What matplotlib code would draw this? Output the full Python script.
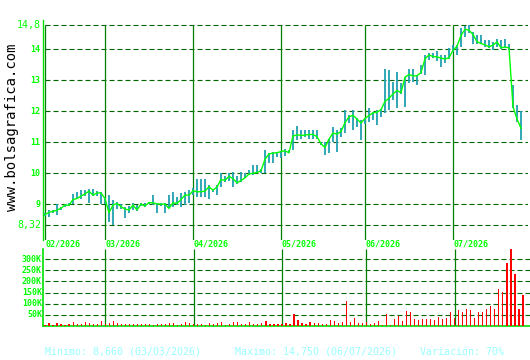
import matplotlib
matplotlib.use("Agg")
import matplotlib.pyplot as plt
import matplotlib.transforms as mtransforms

# Config
OUTPUT_PNG = "out.png"
W, H = 530, 360

# --- Data (one entry per trading day, Feb-Jul 2026) ---
close = [8.66, 8.73, 8.77, 8.80, 8.87, 8.97, 8.96, 9.15, 9.18, 9.26,
         9.33, 9.42, 9.29, 9.36, 9.36, 9.18, 8.72, 8.97, 9.02, 8.92,
         8.84, 8.81, 8.97, 8.81, 9.00, 8.94, 9.05, 9.04, 9.01, 9.00,
         9.00, 8.86, 9.05, 9.02, 9.15, 9.29, 9.29, 9.43, 9.40, 9.40,
         9.42, 9.56, 9.45, 9.55, 9.80, 9.77, 9.90, 9.82, 9.69, 9.76,
         9.85, 9.97, 10.00, 10.02, 10.08, 10.45, 10.62, 10.65, 10.66, 10.70,
         10.72, 10.66, 11.20, 11.24, 11.22, 11.23, 11.25, 11.25, 11.18, 10.95,
         10.83, 11.10, 11.30, 11.26, 11.35, 11.63, 11.82, 11.87, 11.75, 11.62,
         11.77, 11.86, 11.95, 11.97, 12.05, 12.32, 12.42, 12.56, 12.67, 12.60,
         13.10, 13.19, 13.14, 13.15, 13.25, 13.70, 13.82, 13.77, 13.76, 13.72,
         13.69, 13.73, 13.97, 14.10, 14.45, 14.65, 14.62, 14.48, 14.25, 14.19,
         14.15, 14.08, 14.14, 14.24, 14.05, 14.08, 14.05, 12.15, 11.75, 11.45]
high = [8.70, 8.81, 8.81, 9.00, 8.92, 9.00, 9.02, 9.33, 9.40, 9.45,
        9.47, 9.48, 9.48, 9.43, 9.40, 9.20, 9.29, 9.13, 9.08, 9.00,
        8.91, 8.95, 9.02, 8.98, 9.05, 9.02, 9.08, 9.29, 9.02, 9.02,
        9.02, 9.29, 9.40, 9.24, 9.35, 9.40, 9.45, 9.51, 9.80, 9.80,
        9.80, 9.61, 9.50, 9.61, 9.99, 9.92, 9.99, 10.04, 9.90, 10.04,
        9.99, 10.10, 10.26, 10.26, 10.15, 10.75, 10.64, 10.70, 10.70, 10.70,
        10.78, 10.75, 11.39, 11.52, 11.39, 11.39, 11.41, 11.41, 11.39, 11.00,
        11.01, 11.12, 11.50, 11.39, 11.45, 12.04, 11.88, 12.04, 11.77, 11.72,
        11.78, 12.10, 11.99, 12.04, 12.08, 13.38, 13.33, 12.95, 13.28, 12.90,
        13.12, 13.38, 13.38, 13.18, 13.50, 13.82, 13.88, 13.88, 13.94, 13.82,
        13.82, 14.03, 14.14, 14.14, 14.68, 14.75, 14.78, 14.57, 14.48, 14.48,
        14.30, 14.30, 14.25, 14.35, 14.30, 14.35, 14.19, 12.85, 12.20, 12.00]
low = [8.62, 8.59, 8.70, 8.64, 8.80, 8.90, 8.93, 8.99, 9.15, 9.18,
       9.25, 9.05, 9.25, 9.25, 8.99, 9.00, 8.43, 8.32, 8.85, 8.85,
       8.54, 8.70, 8.80, 8.78, 8.95, 8.90, 9.00, 8.97, 8.71, 8.95,
       8.71, 8.86, 8.90, 8.97, 8.92, 8.97, 9.02, 9.29, 9.22, 9.22,
       9.22, 9.18, 9.40, 9.29, 9.56, 9.70, 9.75, 9.54, 9.66, 9.72,
       9.83, 9.93, 9.94, 9.99, 9.99, 10.00, 10.32, 10.32, 10.53, 10.48,
       10.55, 10.64, 10.75, 11.07, 11.12, 11.18, 11.12, 11.12, 11.12, 10.90,
       10.58, 10.64, 11.01, 10.69, 11.18, 11.29, 11.61, 11.40, 11.50, 11.07,
       11.60, 11.65, 11.73, 11.55, 11.80, 11.93, 12.03, 12.35, 12.09, 12.55,
       12.15, 12.90, 12.95, 12.86, 13.20, 13.17, 13.65, 13.71, 13.61, 13.44,
       13.55, 13.70, 13.92, 13.82, 14.08, 14.40, 14.52, 14.19, 14.16, 14.19,
       14.08, 14.03, 13.99, 14.08, 14.00, 14.03, 13.98, 12.10, 11.65, 11.07]
volume_k = [4.5, 12, 4.5, 12, 9, 4.5, 9, 18, 9, 9,
            18, 12, 9, 9, 23, 9, 13.6, 23, 13.6, 9,
            9, 9, 9, 9, 9, 9, 9, 4.5, 9, 9,
            9, 13.6, 13.6, 4.5, 9, 18, 13.6, 9, 9, 9,
            4.5, 13.6, 9, 13.6, 18, 4.5, 9, 18, 18, 9,
            9, 18, 9, 9, 13.6, 23, 9, 9, 9, 9,
            13.6, 9, 55, 27, 13.6, 9, 18, 13.6, 13.6, 9,
            9, 27, 23, 13.6, 18, 114, 18, 36, 13.6, 13.6,
            18, 9, 13.6, 23, 4.5, 55, 4.5, 32, 45, 23,
            68, 64, 32, 27, 32, 32, 32, 27, 41, 32,
            36, 64, 36, 73, 64, 77, 73, 36, 64, 64,
            77, 91, 77, 168, 152, 282, 345, 232, 77, 141]

month_starts = [0, 15, 37, 59, 80, 102]
month_labels = ["02/2026", "03/2026", "04/2026", "05/2026", "06/2026", "07/2026"]
price_levels = [9, 10, 11, 12, 13, 14]
price_min, price_max = 8.32, 14.8
price_min_label, price_max_label = "8,32", "14,8"
vol_levels = [50, 100, 150, 200, 250, 300]
vol_labels = ["50K", "100K", "150K", "200K", "250K", "300K"]
summary = ["Minimo: 8,660 (03/03/2026)", "Maximo: 14,750 (06/07/2026)", "Variación: 70%"]

# Colours
LIME = "#00ff00"
AXIS = "#00e000"
GRID = "#006600"
VLINE = "#008000"
TEAL = "#20a0b0"
RED = "#ff0000"
CYAN = "#99ffff"
MONO = "DejaVu Sans Mono"
DASH = (0, (4.5, 2.7))


def px_rect(x0, y0, x1, y1):
    # pixel box (top-left origin) -> figure fraction rect
    return [x0 / W, 1 - y1 / H, (x1 - x0) / W, (y1 - y0) / H]


def main():
    fig = plt.figure(figsize=(W / 100, H / 100), dpi=100)
    fig.patch.set_facecolor("white")

    n = len(close)
    xs = list(range(n))
    xlim = (-0.42, 120.75)

    # --- Price panel ---
    ax = fig.add_axes(px_rect(43.3, 20, 528, 240))
    ax.set_xlim(*xlim)
    ax.set_ylim(7.84, 14.95)
    for s in ["top", "right", "bottom"]:
        ax.spines[s].set_visible(False)
    ax.spines["left"].set_color(AXIS)
    ax.spines["left"].set_linewidth(1.0)
    ax.set_xticks([])
    ax.set_yticks([])

    for lv in price_levels + [price_min, price_max]:
        ax.axhline(lv, xmin=0.004, color=GRID, lw=0.8, ls=DASH, zorder=1)
    ax.vlines(month_starts, 7.84, price_max, color=VLINE, lw=0.9, zorder=2)

    ax.vlines(xs, low, high, color=TEAL, lw=1.3, zorder=3)
    ax.plot(xs, close, color=LIME, lw=1.0, zorder=4)

    trans = mtransforms.blended_transform_factory(fig.transFigure, ax.transData)
    for lv in price_levels:
        ax.text(40.5 / W, lv, str(lv), transform=trans, ha="right", va="center",
                color=LIME, fontsize=6, fontweight="bold", family=MONO)
    ax.text(41 / W, price_max, price_max_label, transform=trans, ha="right",
            va="center", color=LIME, fontsize=7.2, family=MONO)
    ax.text(41 / W, price_min, price_min_label, transform=trans, ha="right",
            va="center", color=LIME, fontsize=7.2, family=MONO)

    # month labels between the panels
    ttrans = mtransforms.blended_transform_factory(ax.transData, fig.transFigure)
    for m, lab in zip(month_starts, month_labels):
        ax.text(m + 0.2, 1 - 244 / H, lab, transform=ttrans, ha="left", va="center",
                color=LIME, fontsize=6, fontweight="bold", family=MONO, clip_on=False)

    # --- Volume panel ---
    av = fig.add_axes(px_rect(43.3, 249, 530, 326))
    av.set_xlim(*xlim)
    av.set_ylim(0, 346)
    for s in ["top", "right"]:
        av.spines[s].set_visible(False)
    for s in ["left", "bottom"]:
        av.spines[s].set_color(AXIS)
        av.spines[s].set_linewidth(1.2)
    av.set_xticks([])
    av.set_yticks([])
    vtrans = mtransforms.blended_transform_factory(fig.transFigure, av.transData)
    for lv, lab in zip(vol_levels, vol_labels):
        av.axhline(lv, xmin=0.004, color=GRID, lw=0.8, ls=DASH, zorder=1)
        av.text(42 / W, lv, lab, transform=vtrans, ha="right", va="center",
                color=LIME, fontsize=6, fontweight="bold", family=MONO)
    av.vlines(month_starts[1:], 0, 346, color=VLINE, lw=0.9, zorder=2)
    av.bar(xs, volume_k, width=0.3, color=RED, linewidth=0, zorder=3)

    # --- Watermark and summary ---
    fig.text(12 / W, 1 - 127 / H, "www.bolsagrafica.com", rotation=90, ha="center",
             va="center", color="black", fontsize=10, family=MONO)
    for xpix, s in zip([45, 235, 420], summary):
        fig.text(xpix / W, 1 - 352 / H, s, ha="left", va="center", color=CYAN,
                 fontsize=7.2, family=MONO)

    fig.savefig(OUTPUT_PNG, dpi=100, facecolor="white")
    plt.close(fig)


if __name__ == "__main__":
    main()
